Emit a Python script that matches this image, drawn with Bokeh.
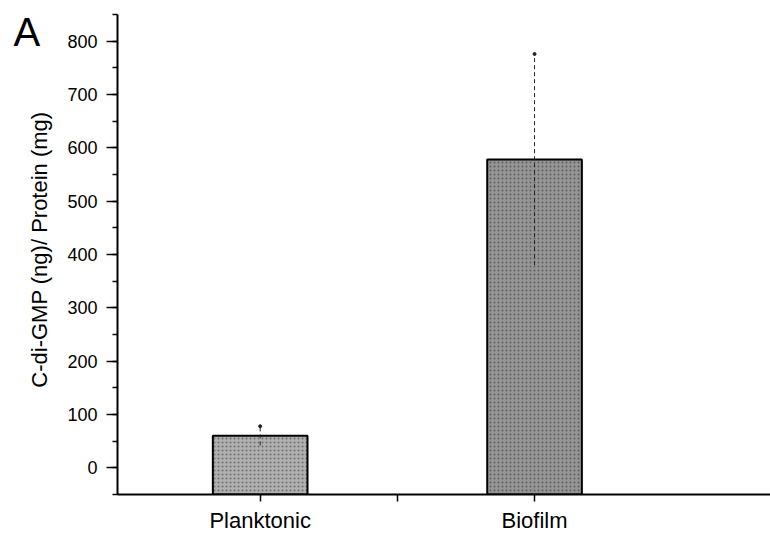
from bokeh.plotting import figure
from bokeh.layouts import row
from bokeh.models import Range1d, FixedTicker, Label, ColumnDataSource
from bokeh.embed import file_html
from bokeh.resources import INLINE

# Measured c-di-GMP content per mg protein
groups = ["Planktonic", "Biofilm"]
positions = [1.0, 2.0]
means = [60, 578]
errors = [18, 198]
fills = ["#b0b0b0", "#959595"]

baseline = -50
font = "Liberation Sans"
H = 535

# narrow strip on the left holding the panel letter and the y title
side = figure(width=60, height=H, output_backend="svg", toolbar_location=None,
              x_range=Range1d(0, 60), y_range=Range1d(0, H),
              x_axis_type=None, y_axis_type=None, min_border=0)
side.outline_line_color = None
side.grid.visible = False
side.add_layout(Label(x=13, y=H - 19, text="A", text_font=font,
                      text_font_size="40px", text_color="black",
                      text_align="left", text_baseline="middle"))
side.add_layout(Label(x=39, y=H - 262, text="C-di-GMP (ng)/ Protein (mg)",
                      angle=1.5708, text_font=font, text_font_size="22px",
                      text_color="black", text_align="center",
                      text_baseline="middle"))

p = figure(width=710, height=H, output_backend="svg", toolbar_location=None,
           x_range=Range1d(0.48, 2.86), y_range=Range1d(baseline, 850),
           min_border_left=57, min_border_right=0, min_border_top=14,
           min_border_bottom=38)
p.outline_line_color = None
p.grid.visible = False

src = ColumnDataSource(dict(x=positions, top=means, fill=fills,
                            lo=[m - e for m, e in zip(means, errors)],
                            hi=[m + e for m, e in zip(means, errors)]))

p.vbar(x="x", top="top", bottom=baseline, width=0.345, source=src,
       fill_color="fill", line_color="black", line_width=2,
       hatch_pattern="dot", hatch_color="#2a2a2a", hatch_alpha=0.5, hatch_scale=4)

# error bars drawn as thin dashed lines with a point at the upper end
p.segment(x0="x", y0="lo", x1="x", y1="hi", source=src,
          line_color="#222222", line_width=1, line_dash="4 3")
p.scatter(x="x", y="hi", source=src, size=3, color="#222222")

yax = p.yaxis[0]
yax.ticker = FixedTicker(ticks=list(range(0, 801, 100)),
                         minor_ticks=list(range(-50, 851, 50)))
yax.axis_line_width = 2
yax.major_tick_line_width = 1.5
yax.minor_tick_line_width = 1.5
yax.major_tick_out = 11
yax.major_tick_in = 0
yax.minor_tick_out = 5
yax.minor_tick_in = 0
yax.major_label_text_font = font
yax.major_label_text_font_size = "18px"
yax.major_label_text_color = "black"
yax.major_label_standoff = 9

xax = p.xaxis[0]
xax.ticker = FixedTicker(ticks=[1.0, 1.5, 2.0], minor_ticks=[])
xax.major_label_overrides = {1.0: groups[0], 1.5: "", 2.0: groups[1]}
xax.axis_line_width = 2
xax.major_tick_line_width = 1.5
xax.major_tick_out = 7
xax.major_tick_in = 0
xax.major_label_text_font = font
xax.major_label_text_font_size = "22px"
xax.major_label_text_color = "black"
xax.major_label_standoff = 6

layout = row(side, p, spacing=0)
open("out.html", "w").write(file_html(layout, INLINE))
